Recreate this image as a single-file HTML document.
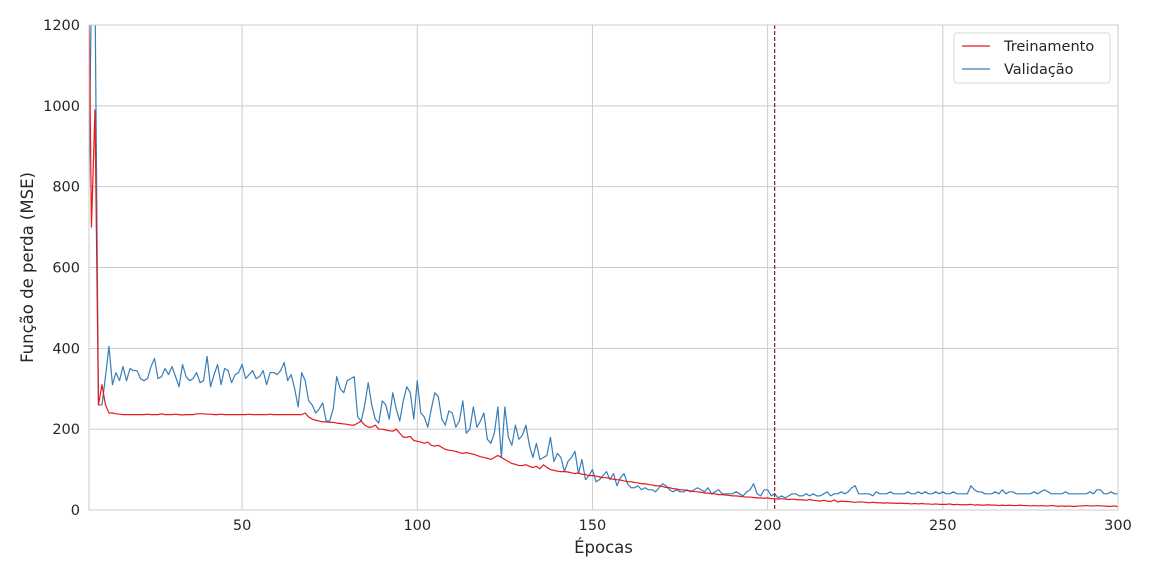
<!DOCTYPE html>
<html><head><meta charset="utf-8"><style>
html,body{margin:0;padding:0;background:#fff;}
svg{display:block;font-family:"DejaVu Sans","Liberation Sans",sans-serif;}
</style></head><body>
<svg id="chart" width="1152" height="576" viewBox="0 0 1152 576" xmlns="http://www.w3.org/2000/svg">
<g id="grid"></g>
<g id="ticks"></g>
<g id="plot"></g>
<rect x="89" y="25" width="1029" height="485" fill="none" stroke="#cccccc" stroke-width="1"/>
<text x="603.5" y="553" font-size="16.5" text-anchor="middle" fill="#262626">Épocas</text>
<text transform="translate(33,267.5) rotate(-90)" font-size="16.5" text-anchor="middle" fill="#262626">Função de perda (MSE)</text>
<g>
<rect x="954" y="33" width="156" height="50" rx="3" fill="#fff" fill-opacity="0.8" stroke="#d9d9d9"/>
<line x1="962" y1="46" x2="990" y2="46" stroke="#e41a1c" stroke-width="1.2"/>
<text x="1004" y="51" font-size="14.5" fill="#262626">Treinamento</text>
<line x1="962" y1="69" x2="990" y2="69" stroke="#377eb8" stroke-width="1.2"/>
<text x="1004" y="74" font-size="14.5" fill="#262626">Validação</text>
</g>
</svg>
<script>
const xTicks=[50,100,150,200,250,300];
const yTicks=[0,200,400,600,800,1000,1200];
const bestEpoch=202;
const startEpoch=6;
const trainLoss=[1500,700,990,260,310,260,240,240,238,237,236,236,236,236,236,236,236,237,236,236,236,238,236,236,236,237,236,235,236,236,236,238,238,238,237,237,236,236,237,236,236,236,236,236,236,236,237,236,236,236,236,236,237,236,236,236,236,236,236,236,236,236,240,230,225,222,220,218,218,217,217,215,214,213,212,210,210,215,220,210,205,205,210,200,200,198,196,195,200,190,180,180,182,172,170,168,165,168,160,158,160,155,150,148,147,145,142,140,142,140,138,135,132,130,128,125,130,135,130,125,120,115,113,110,110,112,108,105,108,102,112,105,100,98,96,95,95,94,92,90,92,88,88,85,85,84,82,80,80,78,76,75,74,72,70,70,68,67,65,65,63,62,60,60,58,56,55,53,52,50,50,48,47,46,45,44,42,42,40,40,38,38,37,36,35,35,34,33,32,32,31,30,30,29,30,28,28,27,28,27,26,27,26,25,25,24,26,24,23,22,24,22,21,25,20,22,21,21,20,19,20,20,19,18,19,18,18,17,18,17,17,16,17,16,16,15,16,15,16,15,15,14,15,14,14,14,15,13,14,13,13,13,14,12,13,12,12,13,12,12,11,12,11,12,11,11,12,11,11,10,11,10,11,10,10,11,10,9,10,9,10,9,9,10,10,11,10,10,11,10,10,9,9,10,8,9];
const valLoss=[600,1300,1300,260,260,330,405,310,340,320,355,320,350,345,345,325,320,325,355,375,325,330,350,335,355,330,305,360,330,320,325,340,315,320,380,305,335,360,310,350,345,315,335,340,360,325,335,345,325,330,345,310,340,340,335,345,365,320,335,300,255,340,320,270,260,240,250,265,220,220,250,330,300,290,320,325,330,230,220,260,315,260,225,215,270,260,225,290,250,220,270,305,290,225,320,240,230,205,250,290,280,225,210,245,240,205,220,270,190,200,255,205,220,240,175,165,190,255,130,255,180,160,210,175,185,210,160,130,165,125,130,135,180,120,140,130,95,120,130,145,90,125,75,85,100,70,75,85,95,75,90,60,80,90,65,55,55,60,50,55,50,50,45,55,65,60,50,45,50,45,45,50,45,50,55,50,45,55,40,45,50,40,40,40,40,45,40,35,45,50,65,40,35,50,50,35,40,30,35,30,35,40,40,35,35,40,35,40,35,35,40,45,35,40,40,45,40,45,55,60,40,40,40,40,35,45,40,40,40,45,40,40,40,40,45,40,40,45,40,45,40,40,45,40,45,40,40,45,40,40,40,40,60,50,45,45,40,40,40,45,40,50,40,45,45,40,40,40,40,40,45,40,45,50,45,40,40,40,40,45,40,40,40,40,40,40,45,40,50,50,40,40,45,40,40,45,40,42];
const NS="http://www.w3.org/2000/svg";
const L=89,R=1118,T=25,B=510,xMin=6.3,xMax=300,yMax=1200;
const xs=e=>L+(e-xMin)/(xMax-xMin)*(R-L);
const ys=v=>B-v/yMax*(B-T);
const grid=document.getElementById('grid'),ticks=document.getElementById('ticks'),plot=document.getElementById('plot');
function mk(tag,attrs,parent){const el=document.createElementNS(NS,tag);for(const k in attrs)el.setAttribute(k,attrs[k]);parent.appendChild(el);return el;}
xTicks.forEach(t=>{
  const g=mk('line',{x1:xs(t),x2:xs(t),y1:T,y2:B,stroke:'#cccccc','stroke-width':1},grid);
  
  
  const tx=mk('text',{x:xs(t),y:B+20,'font-size':14.5,'text-anchor':'middle',fill:'#262626'},ticks);
  tx.textContent=t;
  
  
});
yTicks.forEach(t=>{
  const g=mk('line',{x1:L,x2:R,y1:ys(t),y2:ys(t),stroke:'#cccccc','stroke-width':1},grid);
  
  
  const tx=mk('text',{x:L-9,y:ys(t)+5,'font-size':14.5,'text-anchor':'end',fill:'#262626'},ticks);
  tx.textContent=t;
  
  
});
const defs=mk('defs',{},plot);
const cp=mk('clipPath',{id:'clip'},defs);
mk('rect',{x:L,y:T,width:R-L,height:B-T},cp);
function line(arr,color,name){
  const d=arr.map((v,i)=>(i?'L':'M')+xs(startEpoch+i).toFixed(2)+','+ys(v).toFixed(2)).join('');
  const p=mk('path',{d:d,fill:'none',stroke:color,'stroke-width':1.2,'clip-path':'url(#clip)','stroke-linejoin':'round'},plot);
  
  
}
line(valLoss,'#377eb8','validation-loss-line');
line(trainLoss,'#e41a1c','training-loss-line');
const bl=mk('line',{x1:xs(bestEpoch),x2:xs(bestEpoch),y1:T,y2:B,stroke:'#8b1a1a','stroke-width':1.2,'stroke-dasharray':'4,2'},plot);


</script>
</body></html>
